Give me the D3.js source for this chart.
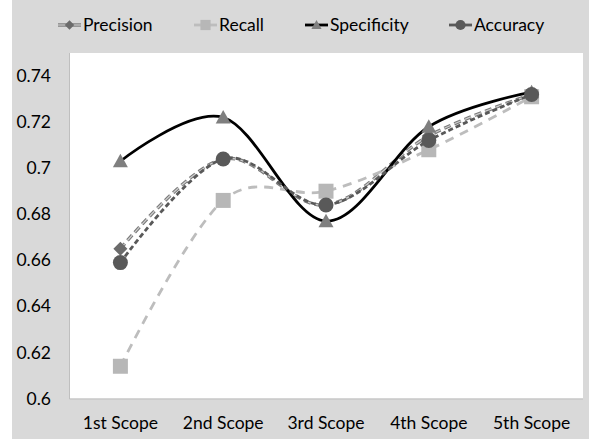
<!DOCTYPE html>
<html>
<head>
<meta charset="utf-8">
<script src="https://cdn.jsdelivr.net/npm/d3@7"></script>
<style>
  html, body { margin: 0; padding: 0; background: #ffffff; }
  svg { display: block; }
  text { font-family: Lato, "Noto Sans", sans-serif; fill: #000; }
</style>
</head>
<body>
<svg id="chart" width="589" height="439"></svg>
<script>
// Scope categories along the x axis
const categories = ["1st Scope", "2nd Scope", "3rd Scope", "4th Scope", "5th Scope"];

// Metric values per scope
const precision   = [0.665, 0.704, 0.684, 0.714, 0.732];
const recall      = [0.614, 0.686, 0.690, 0.708, 0.731];
const specificity = [0.703, 0.722, 0.677, 0.718, 0.733];
const accuracy    = [0.659, 0.704, 0.684, 0.712, 0.732];

// Y axis tick values
const yTicks = [0.6, 0.62, 0.64, 0.66, 0.68, 0.7, 0.72, 0.74];

const seriesNames = ["Precision", "Recall", "Specificity", "Accuracy"];

const svg = d3.select("#chart");
const W = 589, H = 439;
const plot = { left: 69, right: 583, top: 53, bottom: 398.5 };

// Outer chart area
svg.append("rect").attr("x", 12).attr("y", 0).attr("width", W - 12).attr("height", H).attr("fill", "#d9d9d9");
// Plot area
svg.append("rect").attr("x", plot.left).attr("y", plot.top)
  .attr("width", plot.right - plot.left).attr("height", plot.bottom - plot.top).attr("fill", "#ffffff");
svg.append("path")
  .attr("d", `M${plot.left + 0.5},${plot.top}V${plot.bottom + 0.5}H${plot.right}`)
  .attr("fill", "none").attr("stroke", "#bfbfbf").attr("stroke-width", 1);

const x = d3.scaleBand().domain(categories).range([plot.left, plot.right]);
const y = d3.scaleLinear().domain([0.6, 0.75]).range([plot.bottom, plot.top]);
const cx = c => x(c) + x.bandwidth() / 2;

// Y axis labels
const yAxis = svg.append("g").attr("transform", `translate(${plot.left},0)`)
  .call(d3.axisLeft(y).tickValues(yTicks).tickSize(0).tickPadding(18)
    .tickFormat(v => String(+v.toFixed(2))));
yAxis.select(".domain").remove();
yAxis.selectAll("text").style("font-family", "Lato, 'Noto Sans', sans-serif")
  .style("font-size", "17.5px").attr("fill", "#000");

// X axis labels
const xAxis = svg.append("g").attr("transform", `translate(0,${plot.bottom})`)
  .call(d3.axisBottom(x).tickSize(0).tickPadding(0));
xAxis.select(".domain").remove();
xAxis.selectAll("text").style("font-family", "Lato, 'Noto Sans', sans-serif")
  .style("font-size", "17.5px").attr("fill", "#000").attr("dy", 0).attr("y", 30.5);

// Series styles
const styles = {
  Precision:   { values: precision,   line: [{ stroke: "#7a7a7a", width: 3.4, dash: "7,4" }, { stroke: "#cfcfcf", width: 1.2, dash: "7,4" }], marker: "diamond",  fill: "#6b6b6b", size: 7 },
  Recall:      { values: recall,      line: [{ stroke: "#bdbdbd", width: 2.8, dash: "9,7" }], marker: "square",   fill: "#b7b7b7", size: 7.5 },
  Specificity: { values: specificity, line: [{ stroke: "#000000", width: 2.8, dash: null }],  marker: "triangle", fill: "#7f7f7f", size: 7.5 },
  Accuracy:    { values: accuracy,    line: [{ stroke: "#595959", width: 2.8, dash: "5,3" }], marker: "circle",   fill: "#595959", size: 7.5 }
};

function markerPath(type, s) {
  switch (type) {
    case "diamond":  return `M0,${-s}L${s},0L0,${s}L${-s},0Z`;
    case "square":   return `M${-s},${-s}H${s}V${s}H${-s}Z`;
    case "triangle": return `M0,${-s}L${s},${s * 0.8}L${-s},${s * 0.8}Z`;
    case "circle":   return `M${s},0A${s},${s} 0 1,1 ${-s},0A${s},${s} 0 1,1 ${s},0Z`;
  }
}

const line = d3.line()
  .x((d, i) => cx(categories[i]))
  .y(d => y(d))
  .curve(d3.curveCardinal.tension(0));

seriesNames.forEach(name => {
  const st = styles[name];
  const g = svg.append("g");
  st.line.forEach(l => {
    g.append("path").datum(st.values).attr("d", line)
      .attr("fill", "none").attr("stroke", l.stroke).attr("stroke-width", l.width)
      .attr("stroke-dasharray", l.dash).attr("stroke-linejoin", "round");
  });
  g.selectAll("path.mk").data(st.values).join("path").attr("class", "mk")
    .attr("transform", (d, i) => `translate(${cx(categories[i])},${y(d)})`)
    .attr("d", markerPath(st.marker, st.size)).attr("fill", st.fill);
});

// Legend
const legendPos = { Precision: 58, Recall: 194, Specificity: 305, Accuracy: 449 };
const legendY = 25;
seriesNames.forEach(name => {
  const st = styles[name];
  const x0 = legendPos[name];
  const g = svg.append("g");
  st.line.forEach(l => {
    g.append("line").attr("x1", x0).attr("x2", x0 + 23).attr("y1", legendY).attr("y2", legendY)
      .attr("stroke", l.stroke).attr("stroke-width", l.width).attr("stroke-dasharray", null);
  });
  g.append("path").attr("transform", `translate(${x0 + 11.5},${legendY})`)
    .attr("d", markerPath(st.marker, st.size * 0.68)).attr("fill", st.fill);
  g.append("text").attr("x", x0 + 25).attr("y", legendY + 6)
    .style("font-size", "17.5px").text(name);
});
</script>
</body>
</html>
